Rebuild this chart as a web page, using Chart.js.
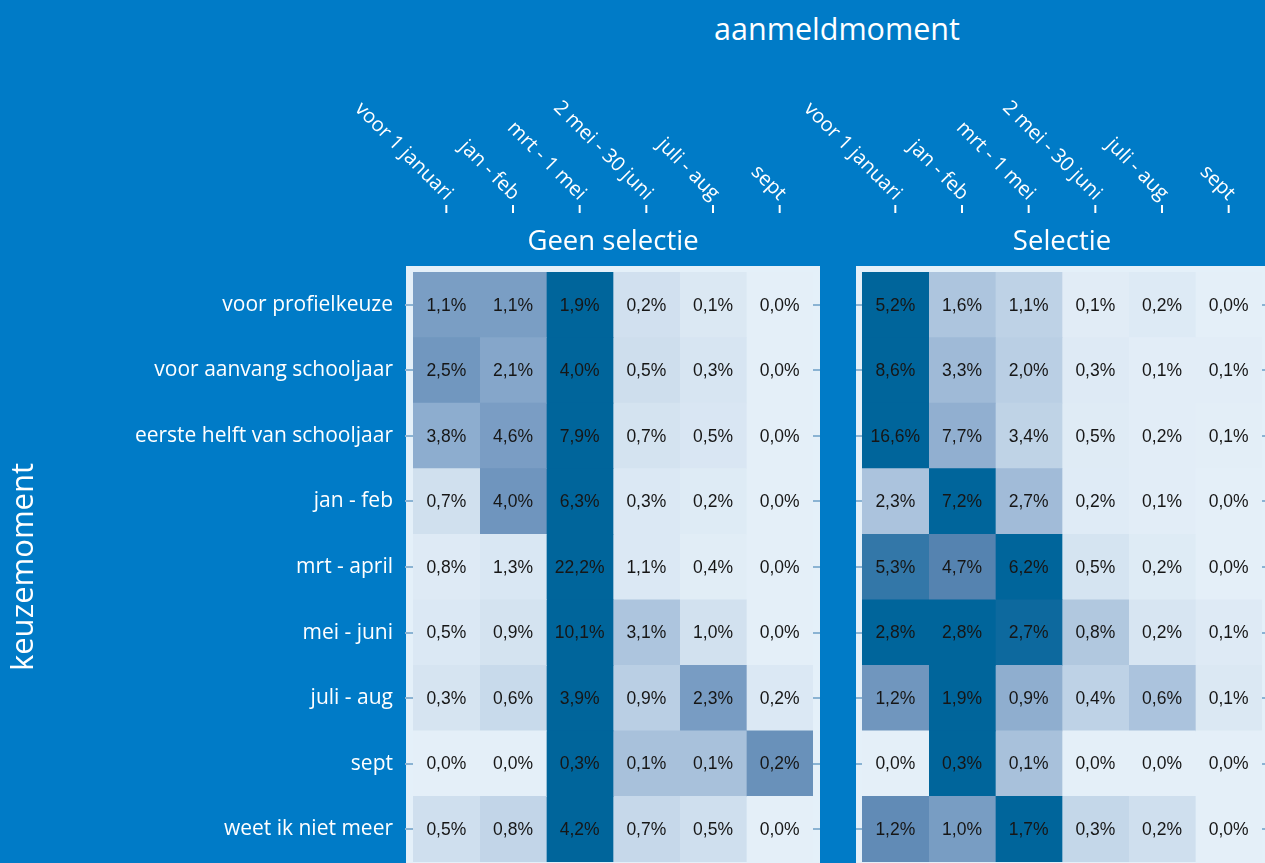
<!DOCTYPE html>
<html lang="nl">
<head>
<meta charset="UTF-8">
<title>Keuzemoment en aanmeldmoment</title>
<script src="https://cdn.jsdelivr.net/npm/chart.js"></script>
<style>
  html, body { margin: 0; padding: 0; background: #007bc7; }
  body { width: 1265px; height: 863px; position: relative; overflow: hidden; font-family: "Open Sans", sans-serif; }
  #titel { position: absolute; left: 637px; top: 10px; width: 400px; text-align: center; color: #fff; font-size: 30.5px; line-height: 36px; }
  .paneel { position: absolute; top: 0; height: 863px; }
  #paneelA { left: 0; width: 830px; }
  #paneelB { left: 760px; width: 505px; }
</style>
</head>
<body>
<div id="titel">aanmeldmoment</div>
<div class="paneel" id="paneelA"><canvas id="geenSelectieChart"></canvas></div>
<div class="paneel" id="paneelB"><canvas id="selectieChart"></canvas></div>

<script>
    // kolommen: aanmeldmoment, rijen: keuzemoment
    const aanmeldmomenten = ['voor 1 januari', 'jan - feb', 'mrt - 1 mei', '2 mei - 30 juni', 'juli - aug', 'sept'];
    const keuzemomenten = ['voor profielkeuze', 'voor aanvang schooljaar', 'eerste helft van schooljaar', 'jan - feb',
        'mrt - april', 'mei - juni', 'juli - aug', 'sept', 'weet ik niet meer'];

    // percentages per rij (keuzemoment), kolommen in volgorde van aanmeldmomenten
    const geenSelectie = [
        [1.1, 1.1, 1.9, 0.2, 0.1, 0.0],
        [2.5, 2.1, 4.0, 0.5, 0.3, 0.0],
        [3.8, 4.6, 7.9, 0.7, 0.5, 0.0],
        [0.7, 4.0, 6.3, 0.3, 0.2, 0.0],
        [0.8, 1.3, 22.2, 1.1, 0.4, 0.0],
        [0.5, 0.9, 10.1, 3.1, 1.0, 0.0],
        [0.3, 0.6, 3.9, 0.9, 2.3, 0.2],
        [0.0, 0.0, 0.3, 0.1, 0.1, 0.2],
        [0.5, 0.8, 4.2, 0.7, 0.5, 0.0]
    ];
    const selectie = [
        [5.2, 1.6, 1.1, 0.1, 0.2, 0.0],
        [8.6, 3.3, 2.0, 0.3, 0.1, 0.1],
        [16.6, 7.7, 3.4, 0.5, 0.2, 0.1],
        [2.3, 7.2, 2.7, 0.2, 0.1, 0.0],
        [5.3, 4.7, 6.2, 0.5, 0.2, 0.0],
        [2.8, 2.8, 2.7, 0.8, 0.2, 0.1],
        [1.2, 1.9, 0.9, 0.4, 0.6, 0.1],
        [0.0, 0.3, 0.1, 0.0, 0.0, 0.0],
        [1.2, 1.0, 1.7, 0.3, 0.2, 0.0]
    ];

    // kleurschaal: aandeel t.o.v. het rijmaximum
    const kleurStops = [
        [0, [228, 239, 248]],
        [0.5, [138, 170, 205]],
        [0.75, [88, 132, 177]],
        [1, [0, 101, 155]]
    ];

    function celKleur(waarde, rijMax) {
        const t = rijMax > 0 ? waarde / rijMax : 0;
        for (let i = 1; i < kleurStops.length; i++) {
            const [t0, c0] = kleurStops[i - 1];
            const [t1, c1] = kleurStops[i];
            if (t <= t1) {
                const s = (t - t0) / (t1 - t0);
                const c = c0.map((v, j) => Math.round(v + (c1[j] - v) * s));
                return `rgb(${c[0]}, ${c[1]}, ${c[2]})`;
            }
        }
        return 'rgb(0, 101, 155)';
    }

    const procent = v => v.toFixed(1).replace('.', ',') + '%';

    const WIT = '#ffffff';
    const KADER = '#e4f0f9';
    const STREEPJE = '#8ab3d3';
    const tekstFont = '"Open Sans", sans-serif';

    // licht kader achter het paneel
    const kaderPlugin = {
        id: 'kader',
        beforeDraw(chart, args, opts) {
            const {ctx, chartArea} = chart;
            const links = chartArea.left - opts.links;
            const rechts = opts.rechts === null ? chart.width : chartArea.right + opts.rechts;
            ctx.save();
            ctx.fillStyle = KADER;
            ctx.fillRect(links, chartArea.top - 6, rechts - links, chart.height);
            ctx.restore();
        }
    };

    // percentage in elke cel
    const celLabelPlugin = {
        id: 'celLabels',
        afterDatasetsDraw(chart) {
            const {ctx} = chart;
            ctx.save();
            ctx.font = '17.5px "Liberation Sans", Arial, sans-serif';
            ctx.fillStyle = '#161616';
            ctx.textAlign = 'center';
            ctx.textBaseline = 'middle';
            chart.data.datasets.forEach((ds, d) => {
                chart.getDatasetMeta(d).data.forEach((bar, r) => {
                    const {x, y} = bar.getCenterPoint();
                    ctx.fillText(procent(ds.waarden[r]), x, y + 1);
                });
            });
            ctx.restore();
        }
    };

    // schuine kolomlabels, streepjes en paneeltitel boven het paneel
    const kolomPlugin = {
        id: 'kolommen',
        afterDraw(chart, args, opts) {
            const {ctx, chartArea} = chart;
            const xas = chart.scales.x;
            ctx.save();
            aanmeldmomenten.forEach((naam, k) => {
                const x = xas.getPixelForValue(k + 0.5);
                ctx.strokeStyle = WIT;
                ctx.lineWidth = 2;
                ctx.beginPath();
                ctx.moveTo(x, chartArea.top - 67);
                ctx.lineTo(x, chartArea.top - 59);
                ctx.stroke();

                ctx.save();
                ctx.translate(x + 3, chartArea.top - 75);
                ctx.rotate(Math.PI / 4);
                ctx.font = '20px ' + tekstFont;
                ctx.fillStyle = WIT;
                ctx.textAlign = 'right';
                ctx.textBaseline = 'middle';
                ctx.fillText(naam, 0, 0);
                ctx.restore();
            });
            ctx.font = '27.5px ' + tekstFont;
            ctx.fillStyle = WIT;
            ctx.textAlign = 'center';
            ctx.textBaseline = 'alphabetic';
            ctx.fillText(opts.titel, (chartArea.left + chartArea.right) / 2, chartArea.top - 22);
            ctx.restore();
        }
    };

    function rijAs(positie, streepLengte, breedte, metLabels) {
        return {
            type: 'category',
            position: positie,
            labels: keuzemomenten,
            offset: true,
            border: { display: false },
            grid: { offset: false, drawOnChartArea: false, color: STREEPJE, lineWidth: 2, tickLength: streepLengte },
            ticks: { display: metLabels, color: WIT, padding: 12, font: { family: tekstFont, size: 21 } },
            afterFit(schaal) {
                schaal.width = breedte;
                schaal.paddingTop = 0;
                schaal.paddingBottom = 0;
            }
        };
    }

    function maakHeatmap(canvasId, waarden, instellingen) {
        const ctx = document.getElementById(canvasId).getContext('2d');
        const yLinks = rijAs('left', instellingen.streepLinks, instellingen.breedteLinks, instellingen.labels);
        if (instellingen.labels) {
            yLinks.title = { display: true, text: 'keuzemoment', color: WIT, padding: { top: 6 }, font: { family: tekstFont, size: 31 } };
        }
        return new Chart(ctx, {
            type: 'bar',
            data: {
                labels: keuzemomenten,
                datasets: aanmeldmomenten.map((kolom, k) => ({
                    label: kolom,
                    data: waarden.map(() => [k, k + 1]),
                    waarden: waarden.map(rij => rij[k]),
                    backgroundColor: waarden.map(rij => celKleur(rij[k], Math.max(...rij))),
                    borderWidth: 0,
                    barPercentage: 1,
                    categoryPercentage: 1,
                    grouped: false
                }))
            },
            options: {
                indexAxis: 'y',
                responsive: true,
                maintainAspectRatio: false,
                animation: false,
                layout: { padding: { left: 0, top: 272, right: instellingen.rechtsPadding, bottom: 1 } },
                plugins: {
                    legend: { display: false },
                    tooltip: { enabled: false },
                    kader: { links: instellingen.kaderLinks, rechts: instellingen.kaderRechts },
                    kolommen: { titel: instellingen.titel }
                },
                scales: {
                    x: { type: 'linear', min: 0, max: aanmeldmomenten.length, display: false },
                    y: yLinks,
                    y2: rijAs('right', 7, instellingen.breedteRechts, false)
                }
            },
            plugins: [kaderPlugin, celLabelPlugin, kolomPlugin]
        });
    }

    maakHeatmap('geenSelectieChart', geenSelectie, {
        titel: 'Geen selectie', labels: true, streepLinks: 8, breedteLinks: 413,
        breedteRechts: 7, rechtsPadding: 10, kaderLinks: 7, kaderRechts: 7
    });
    maakHeatmap('selectieChart', selectie, {
        titel: 'Selectie', labels: false, streepLinks: 6, breedteLinks: 102,
        breedteRechts: 3, rechtsPadding: 0, kaderLinks: 6, kaderRechts: null
    });
</script>
</body>
</html>
